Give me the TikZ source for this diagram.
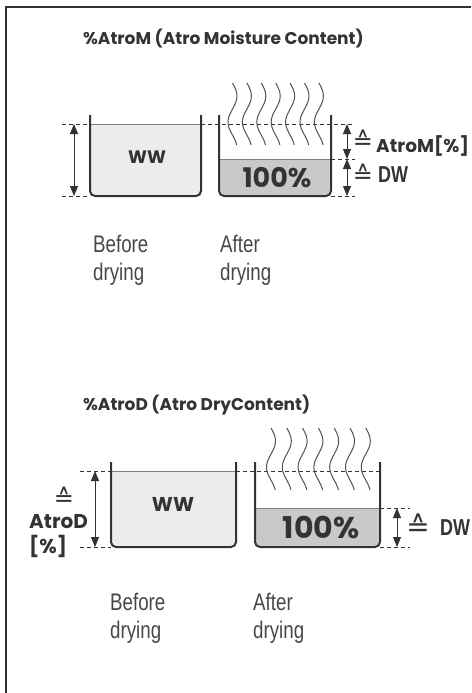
\documentclass[tikz,border=0pt]{standalone}
\usepackage{fontspec}
\setmainfont{Poppins}
\newfontfamily\narrowfont[FakeStretch=0.78]{Liberation Sans}
\newfontfamily\symfont{DejaVu Sans}
\usetikzlibrary{arrows.meta}
\definecolor{inkgray}{HTML}{333333}
\definecolor{wetgray}{HTML}{ECECEC}
\definecolor{drygray}{HTML}{C9C9C9}
\tikzset{
  rahmen/.style={draw=inkgray,line width=1.5pt},
  beaker/.style={draw=inkgray,line width=2pt,rounded corners=5pt},
  level/.style={draw=gray,line width=0.8pt},
  guide/.style={draw=inkgray,line width=0.8pt,dash pattern=on 4pt off 3pt},
  measure/.style={{Triangle[length=10pt,width=8pt]}-{Triangle[length=10pt,width=8pt]},draw=inkgray,line width=0.9pt},
  steam/.style={draw=inkgray!85,line width=1pt},
  headtext/.style={font=\bfseries\fontsize{17}{19}\selectfont,text=inkgray,anchor=base west,inner sep=0pt},
  boldtext/.style={font=\bfseries\fontsize{18}{20}\selectfont,text=inkgray,inner sep=0pt},
  pcttext/.style={font=\bfseries\fontsize{27}{29}\selectfont,text=inkgray,inner sep=0pt},
  dwtext/.style={font=\narrowfont\bfseries\fontsize{23}{25}\selectfont,text=inkgray,anchor=base west,inner sep=0pt},
  captext/.style={font=\narrowfont\fontsize{24}{28}\selectfont,text=inkgray!90,align=left,anchor=north west,inner sep=0pt},
  corrtext/.style={font=\symfont\fontsize{24}{24}\selectfont,text=inkgray,inner sep=0pt}
}

\begin{document}
\begin{tikzpicture}[x=1pt,y=-1pt]
  \useasboundingbox (0,0) rectangle (471,693);
  \draw[rahmen] (6,693) -- (6,7) -- (471,7);

  % --- %AtroM ---
  \node[headtext] (titleM) at (83,45) {\%AtroM (Atro Moisture Content)};
  \fill[wetgray,rounded corners=5pt] (90,124) rectangle (201,196);
  \fill[wetgray] (90,124) rectangle (201,140);
  \draw[level] (90,124) -- (201,124);
  \fill[drygray,rounded corners=5pt] (219,159) rectangle (331,196);
  \fill[drygray] (219,159) rectangle (331,170);
  \draw[level] (219,159) -- (331,159);
  \draw[guide] (62,124) -- (90,124);
  \draw[guide] (201,124) -- (355,124);
  \draw[guide] (62,196) -- (90,196);
  \draw[guide] (331,159) -- (355,159);
  \draw[guide] (331,196) -- (355,196);
  \foreach \i in {0,...,6}
    \draw[steam] plot[domain=0:1,samples=30,smooth] ({232.5+14.4*\i+4.5*sin(428*\x)},{83+62*\x});
  \draw[beaker] (90,115) -- (90,196) -- (201,196) -- (201,115);
  \draw[beaker] (219,115) -- (219,196) -- (331,196) -- (331,115);
  \node[boldtext] (wwM) at (147,157) {WW};
  \node[pcttext] (pctM) at (277,178) {100\%};
  \coordinate (mTopL) at (74,124);
  \coordinate (mBotL) at (74,196);
  \coordinate (mTopR) at (347,124);
  \coordinate (mMidR) at (347,159);
  \coordinate (mBotR) at (347,196);
  \draw[measure] (mTopL) -- (mBotL);
  \draw[measure] (mTopR) -- (mMidR);
  \draw[measure] (mMidR) -- (mBotR);
  \node[corrtext] (eqAtroM) at (363,140) {≙};
  \node[boldtext,font=\bfseries\fontsize{18.5}{20}\selectfont,anchor=base west] (atroM) at (376,152) {AtroM[\%]};
  \node[corrtext] (eqDWM) at (363,174) {≙};
  \node[dwtext] (dwM) at (378,182) {DW};
  \node[captext] (beforeM) at (93,235) {Before\\drying};
  \node[captext] (afterM) at (220,235) {After\\drying};

  % --- %AtroD ---
  \node[headtext] (titleD) at (83,410) {\%AtroD (Atro DryContent)};
  \fill[wetgray,rounded corners=5pt] (111,471) rectangle (236,547);
  \fill[wetgray] (111,471) rectangle (236,490);
  \draw[level] (111,471) -- (236,471);
  \fill[drygray,rounded corners=5pt] (255,508) rectangle (380,547);
  \fill[drygray] (255,508) rectangle (380,520);
  \draw[level] (255,508) -- (380,508);
  \draw[guide] (80,471) -- (111,471);
  \draw[guide] (236,471) -- (380,471);
  \draw[guide] (80,547) -- (111,547);
  \draw[guide] (380,508) -- (410,508);
  \draw[guide] (380,547) -- (410,547);
  \foreach \i in {0,...,6}
    \draw[steam] plot[domain=0:1,samples=30,smooth] ({271+15.8*\i+4.5*sin(428*\x)},{428+62*\x});
  \draw[beaker] (111,462) -- (111,547) -- (236,547) -- (236,462);
  \draw[beaker] (255,462) -- (255,547) -- (380,547) -- (380,462);
  \node[boldtext,font=\bfseries\fontsize{20}{22}\selectfont] (wwD) at (173,504) {WW};
  \node[pcttext,font=\bfseries\fontsize{30}{32}\selectfont] (pctD) at (321,527) {100\%};
  \coordinate (dTopL) at (95,471);
  \coordinate (dBotL) at (95,547);
  \coordinate (dTopR) at (397,508);
  \coordinate (dBotR) at (397,547);
  \draw[measure] (dTopL) -- (dBotL);
  \draw[measure] (dTopR) -- (dBotR);
  \node[corrtext] (eqAtroD) at (64,497) {≙};
  \node[boldtext,font=\bfseries\fontsize{20}{22}\selectfont,anchor=base west] (atroD) at (29,528) {AtroD};
  \node[boldtext,font=\bfseries\fontsize{20}{22}\selectfont,anchor=base west] (pctUnit) at (29,553) {[\%]};
  \node[corrtext,font=\symfont\fontsize{28}{28}\selectfont] (eqDWD) at (418,525) {≙};
  \node[dwtext] (dwD) at (440,535) {DW};
  \node[captext] (beforeD) at (110,593) {Before\\drying};
  \node[captext] (afterD) at (253,593) {After\\drying};
\end{tikzpicture}
\end{document}
